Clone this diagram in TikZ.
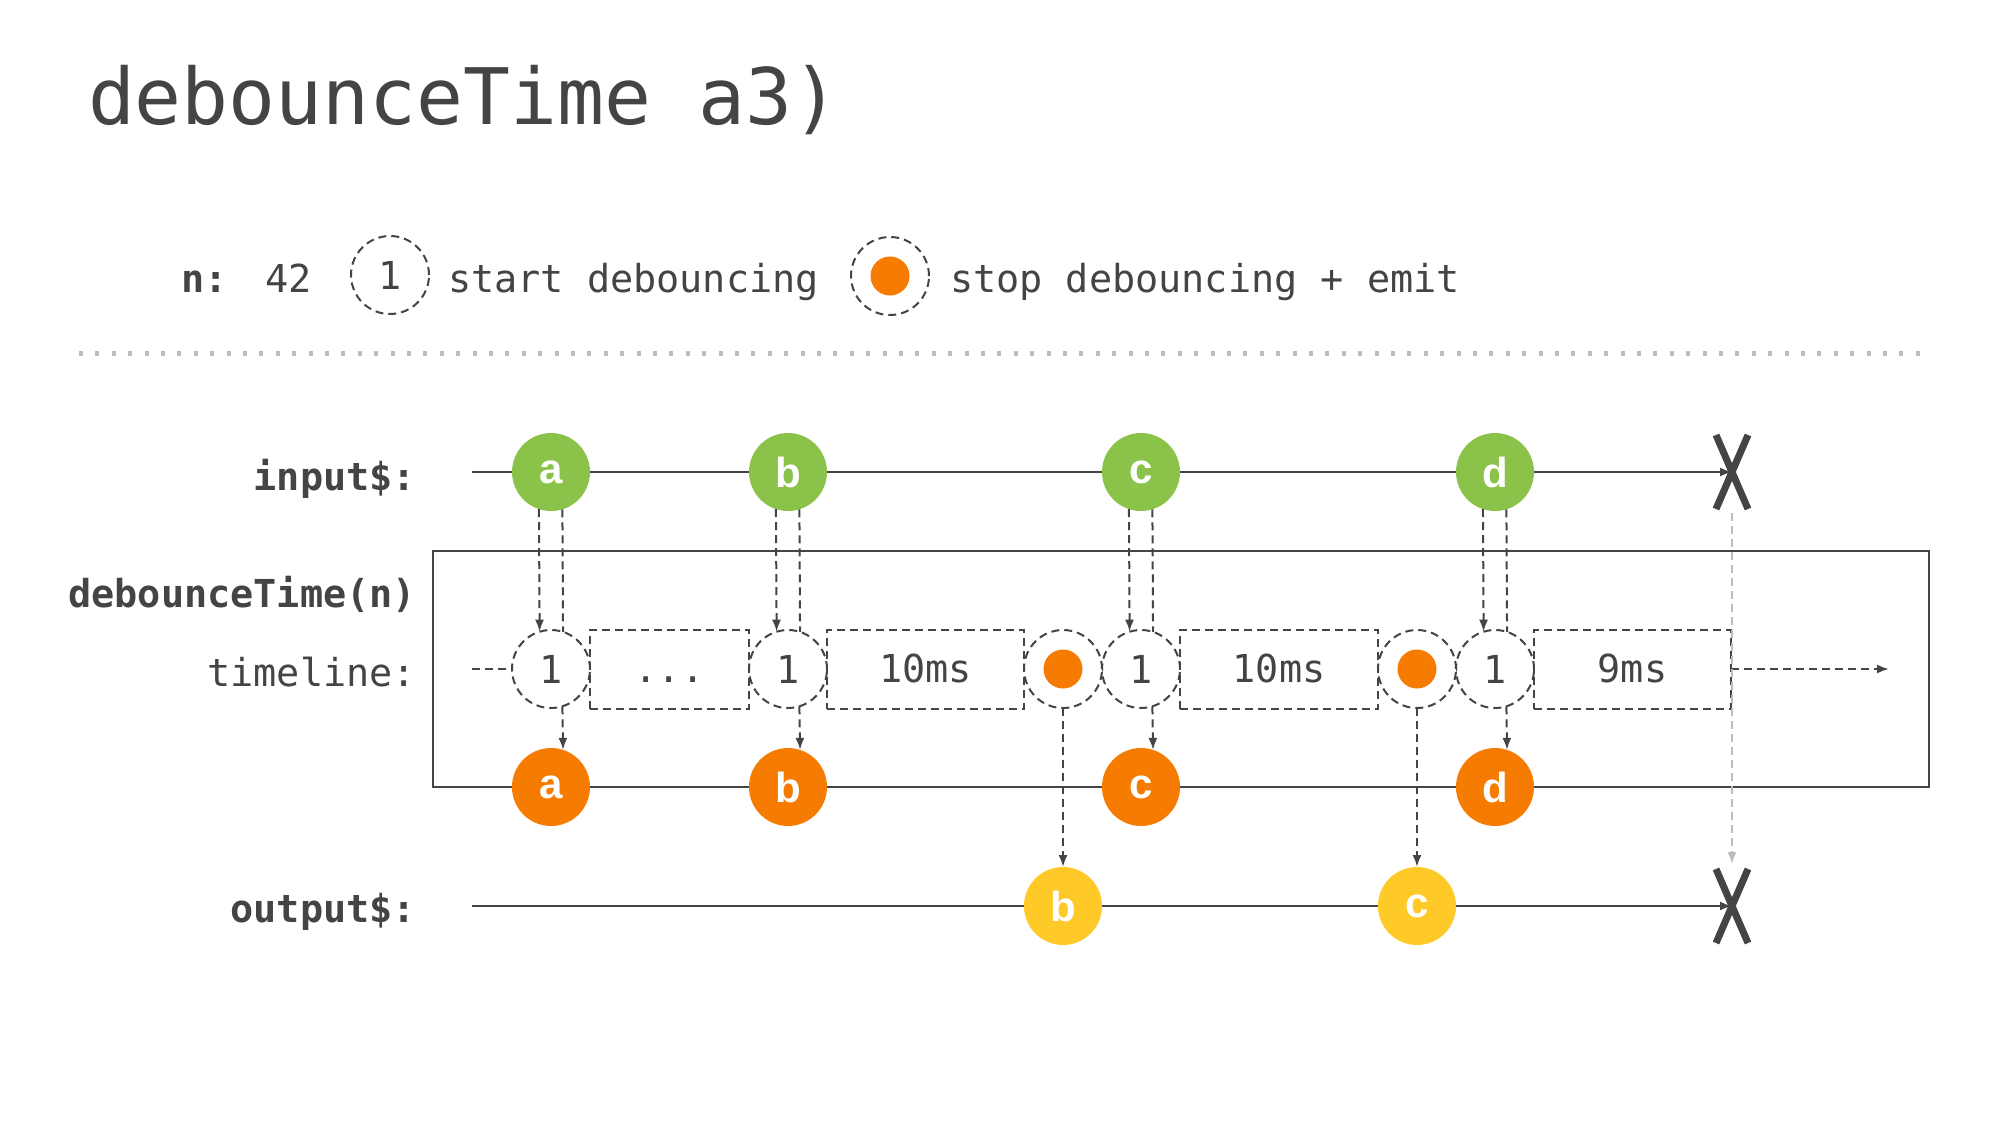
\documentclass[tikz,border=0pt]{standalone}
\usepackage{fontspec}
\setmonofont{DejaVu Sans Mono}
\newfontfamily\circfont{Liberation Sans}
\usetikzlibrary{arrows.meta}
\definecolor{ink}{HTML}{444444}
\definecolor{mgreen}{HTML}{8BC34A}
\definecolor{morange}{HTML}{F57C00}
\definecolor{myellow}{HTML}{FFCA28}
\definecolor{lgray}{HTML}{BDBDBD}
\pgfdeclarelayer{bg}
\pgfsetlayers{bg,main}
\newcommand\ttltxt{\ttfamily\fontsize{78}{90}\selectfont}
\newcommand\monotext{\ttfamily\fontsize{38.5}{44}\selectfont}
\newcommand\lettxt{\circfont\bfseries\fontsize{42}{48}\selectfont}
\begin{document}
\begin{tikzpicture}[x=1pt,y=-1pt,
  every node/.style={inner sep=0pt, outer sep=0pt, text=ink},
  marble/.style={circle, minimum size=78pt, font=\lettxt, text=white},
  inmarble/.style={marble, fill=mgreen},
  opmarble/.style={marble, fill=morange},
  outmarble/.style={marble, fill=myellow},
  dsh/.style={dash pattern=on 8pt off 5pt},
  tlcirc/.style={circle, draw=ink, line width=2pt, dsh, fill=white, minimum size=78pt, font=\monotext},
  dotmark/.style={circle, fill=morange, minimum size=39pt},
  tlbox/.style={rectangle, draw=ink, line width=2pt, dsh, minimum height=79pt, text height=27pt, text depth=0pt, font=\monotext},
  solidline/.style={draw=ink, line width=2pt},
  tipA/.style={-{Latex[length=12pt,width=9pt]}},
  dconn/.style={draw=ink, line width=2pt, dsh},
  dconnA/.style={dconn, tipA},
  xmark/.style={draw=ink, line width=7pt},
  lab/.style={anchor=base east, font=\monotext\bfseries},
]
\useasboundingbox (0,0) rectangle (2000,1125);

% title
\node[anchor=base west, font=\ttltxt] (title) at (88,124) {debounceTime a3)};

% legend
\node[anchor=base west, font=\monotext\bfseries] (nlab) at (181,292) {n:};
\node[anchor=base west, font=\monotext] (nval) at (265,292) {42};
\node[tlcirc] (lg1) at (390,275) {1};
\node[anchor=base west, font=\monotext] (lgt1) at (448,292) {start debouncing};
\node[tlcirc] (lg2) at (890,276) {};
\node[dotmark] (lg2d) at (lg2) {};
\node[anchor=base west, font=\monotext] (lgt2) at (950,292) {stop debouncing + emit};

% separator
\draw[lgray, line width=5pt, dash pattern=on 4pt off 12.4pt] (79,353) -- (1930,353);

% row labels
\node[lab] (lin) at (416,490) {input\$:};
\node[lab] (lop) at (416,607) {debounceTime(n)};
\node[lab, font=\monotext] (ltl) at (416,686) {timeline:};
\node[lab] (lout) at (416,922) {output\$:};

% operator box
\node[draw=ink, line width=2pt, minimum width=1496pt, minimum height=236pt] (op) at (1181,669) {};

% input marbles
\node[inmarble] (ia) at (551,472) {a};
\node[inmarble] (ib) at (788,472) {b};
\node[inmarble] (ic) at (1141,472) {c};
\node[inmarble] (id) at (1495,472) {d};

% timeline
\node[tlcirc] (ta) at (551,669) {1};
\node[tlcirc] (tb) at (788,669) {1};
\node[tlcirc] (tc) at (1141,669) {1};
\node[tlcirc] (td) at (1495,669) {1};
\node[tlcirc] (e1) at (1063,669) {};
\node[dotmark] (e1d) at (e1) {};
\node[tlcirc] (e2) at (1417,669) {};
\node[dotmark] (e2d) at (e2) {};
\node[tlbox, minimum width=159pt] (bx0) at (669.5,669) {...};
\node[tlbox, minimum width=197pt] (bx1) at (925.5,669) {10ms};
\node[tlbox, minimum width=198pt] (bx2) at (1279,669) {10ms};
\node[tlbox, minimum width=197pt] (bx3) at (1632.5,669) {9ms};

% operator output marbles
\node[opmarble] (oa) at (551,787) {a};
\node[opmarble] (ob) at (788,787) {b};
\node[opmarble] (oc) at (1141,787) {c};
\node[opmarble] (od) at (1495,787) {d};

% output marbles
\node[outmarble] (yb) at (1063,906) {b};
\node[outmarble] (yc) at (1417,906) {c};

% coordinates
\coordinate (is) at (472,472);
\coordinate (os) at (472,906);
\coordinate (ts) at (472,669);
\coordinate (te) at (1889,669);
\coordinate (ix) at (1732,472);
\coordinate (ox) at (1732,906);
\coordinate (ixb) at (1732,513);
\coordinate (oxt) at (1732,864);

\begin{pgfonlayer}{bg}
\draw[solidline, tipA] (is) -- (ix);
\draw[solidline, tipA] (os) -- (ox);
\end{pgfonlayer}

% timeline dashed ends
\draw[dconn] (ts) -- (ta.west);
\draw[dconnA] (bx3.east) -- (te);

% vertical connectors
\foreach \k in {a,b,c,d}{
  \draw[dconnA] (i\k.252.1) -- (t\k.107.9);
  \draw[dconn] (i\k.287.9) -- (t\k.72.1);
  \draw[dconnA] (t\k.287.9) -- (o\k.72.1);
}
\draw[dconnA] (e1.south) -- (yb.north);
\draw[dconnA] (e2.south) -- (yc.north);

% completion
\draw[lgray, line width=2pt, dsh, -{Latex[length=12pt,width=9pt]}] (ixb) -- (oxt);
\draw[xmark] ([shift={(-16,-37)}]ix) -- ([shift={(16,37)}]ix);
\draw[xmark] ([shift={(16,-37)}]ix) -- ([shift={(-16,37)}]ix);
\draw[xmark] ([shift={(-16,-37)}]ox) -- ([shift={(16,37)}]ox);
\draw[xmark] ([shift={(16,-37)}]ox) -- ([shift={(-16,37)}]ox);
\end{tikzpicture}
\end{document}
